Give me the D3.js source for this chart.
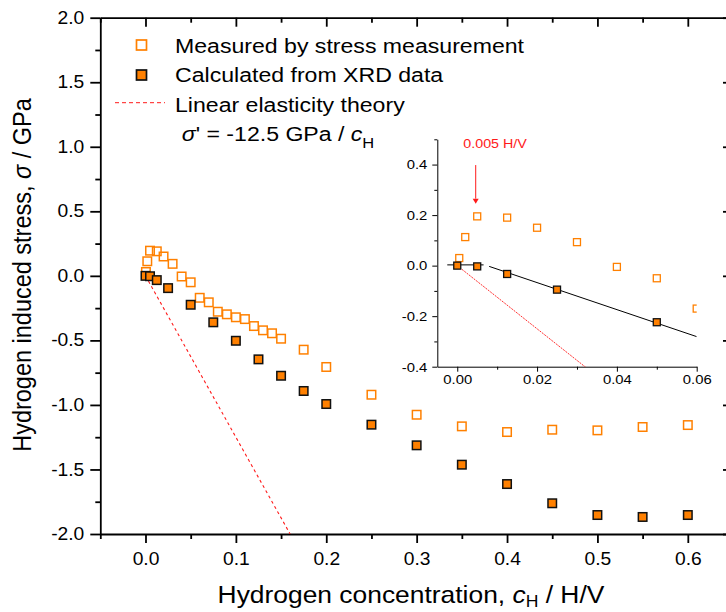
<!DOCTYPE html>
<html><head><meta charset="utf-8">
<script src="https://cdn.jsdelivr.net/npm/d3@7"></script>
<style>
html,body{margin:0;padding:0;background:#fff}
svg{display:block}
text{font-family:"Liberation Sans",Arial,Helvetica,sans-serif;fill:#000}
</style></head><body>
<svg id="chart" width="726" height="612"></svg>
<script>
// Hydrogen concentration (H/V) and induced stress (GPa)
const measuredC = [0.0005, 0.002, 0.005, 0.0125, 0.02, 0.03, 0.04, 0.05, 0.06, 0.07, 0.08, 0.09, 0.10, 0.11, 0.12, 0.13, 0.14, 0.15, 0.175, 0.20, 0.25, 0.30, 0.35, 0.40, 0.45, 0.50, 0.55, 0.60];
const measuredS = [0.03, 0.113, 0.195, 0.19, 0.15, 0.093, -0.005, -0.05, -0.17, -0.205, -0.278, -0.298, -0.321, -0.335, -0.389, -0.422, -0.445, -0.487, -0.572, -0.706, -0.921, -1.076, -1.166, -1.21, -1.192, -1.197, -1.171, -1.156];
const calcC = [0, 0.005, 0.0125, 0.025, 0.05, 0.075, 0.10, 0.125, 0.15, 0.175, 0.20, 0.25, 0.30, 0.35, 0.40, 0.45, 0.50, 0.55, 0.60];
const calcS = [0, -0.003, -0.033, -0.095, -0.224, -0.36, -0.503, -0.647, -0.774, -0.892, -0.993, -1.153, -1.313, -1.463, -1.613, -1.762, -1.853, -1.868, -1.853];
// linear elasticity theory: sigma' = -12.5 GPa * c_H
const elasticSlope = -12.5;
// fitted lines through the XRD data at low concentration
const fitFlat = [[-0.0025, 0.003], [0.0066, 0.003]];
const fitSlope = [[0.008, -0.003], [0.06, -0.281]];
// tick values
const xMajor = [0, 0.1, 0.2, 0.3, 0.4, 0.5, 0.6];
const xMinor = [-0.05, 0.05, 0.15, 0.25, 0.35, 0.45, 0.55, 0.65];
const yMajor = [-2, -1.5, -1, -0.5, 0, 0.5, 1, 1.5, 2];
const yMinor = [-1.75, -1.25, -0.75, -0.25, 0.25, 0.75, 1.25, 1.75];
const insetXMajor = [0, 0.02, 0.04, 0.06];
const insetXMinor = [0.01, 0.03, 0.05];
const insetYMajor = [-0.4, -0.2, 0, 0.2, 0.4];
const insetYMinor = [-0.3, -0.1, 0.1, 0.3, 0.5];
const legendLabels = ["Measured by stress measurement", "Calculated from XRD data", "Linear elasticity theory"];
const annotation = "0.005 H/V";

const ORANGE = "#FF8000", RED = "#FF1A1A";
const SX = 1.1; // horizontal glyph stretch
const fmt1 = d => d.toFixed(1);
const fmt2 = d => d.toFixed(2);

const svg = d3.select("#chart");

function stretch(sel) {
  sel.each(function () {
    const t = d3.select(this);
    const x0 = +t.attr("x") || 0;
    t.attr("transform", `translate(${x0 * (1 - SX)},0) scale(${SX},1)`);
  });
}

// ---------- main plot ----------
const x = d3.scaleLinear().domain([-0.05, 0.65]).range([100.3, 733]);
const y = d3.scaleLinear().domain([-2, 2]).range([534, 17.7]);

const defs = svg.append("defs");
defs.append("clipPath").attr("id", "mainClip").append("rect")
  .attr("x", x(-0.05)).attr("y", y(2)).attr("width", x(0.65) - x(-0.05)).attr("height", y(-2) - y(2));

function styleAxis(g, w) {
  g.select(".domain").attr("stroke", "#000").attr("stroke-width", w);
  g.selectAll(".tick line").attr("stroke", "#000").attr("stroke-width", w);
}

// bottom
const gb = svg.append("g").attr("transform", `translate(0,${y(-2)})`)
  .call(d3.axisBottom(x).tickValues(xMajor).tickFormat(fmt1).tickSizeInner(9).tickSizeOuter(0).tickPadding(10));
gb.selectAll("text").style("font-size", "17.5px").attr("fill", "#000");
stretch(gb.selectAll("text"));
styleAxis(gb, 1.8);
const gbm = svg.append("g").attr("transform", `translate(0,${y(-2)})`)
  .call(d3.axisBottom(x).tickValues(xMinor).tickFormat("").tickSizeInner(5).tickSizeOuter(0));
gbm.select(".domain").remove(); styleAxis(gbm, 1.8);

// top
const gt = svg.append("g").attr("transform", `translate(0,${y(2)})`)
  .call(d3.axisTop(x).tickValues(xMajor).tickFormat("").tickSizeInner(-9).tickSizeOuter(0));
styleAxis(gt, 1.8);
const gtm = svg.append("g").attr("transform", `translate(0,${y(2)})`)
  .call(d3.axisTop(x).tickValues(xMinor).tickFormat("").tickSizeInner(-5).tickSizeOuter(0));
gtm.select(".domain").remove(); styleAxis(gtm, 1.8);

// left
const gl = svg.append("g").attr("transform", `translate(${x(-0.05)},0)`)
  .call(d3.axisLeft(y).tickValues(yMajor).tickFormat(fmt1).tickSizeInner(10).tickSizeOuter(0).tickPadding(6));
gl.selectAll("text").style("font-size", "17.5px").attr("fill", "#000");
stretch(gl.selectAll("text"));
styleAxis(gl, 1.8);
const glm = svg.append("g").attr("transform", `translate(${x(-0.05)},0)`)
  .call(d3.axisLeft(y).tickValues(yMinor).tickFormat("").tickSizeInner(5).tickSizeOuter(0));
glm.select(".domain").remove(); styleAxis(glm, 1.8);

// right
const gr = svg.append("g").attr("transform", `translate(${x(0.65)},0)`)
  .call(d3.axisRight(y).tickValues(yMajor).tickFormat("").tickSizeInner(-10).tickSizeOuter(0));
styleAxis(gr, 1.8);
const grm = svg.append("g").attr("transform", `translate(${x(0.65)},0)`)
  .call(d3.axisRight(y).tickValues(yMinor).tickFormat("").tickSizeInner(-5).tickSizeOuter(0));
grm.select(".domain").remove(); styleAxis(grm, 1.8);

// axis titles
const xt = svg.append("text").attr("x", 411).attr("y", 603).attr("text-anchor", "middle").style("font-size", "24px");
xt.append("tspan").text("Hydrogen concentration, ");
xt.append("tspan").style("font-style", "italic").text("c");
xt.append("tspan").attr("dy", 4).style("font-size", "16px").text("H");
xt.append("tspan").attr("dy", -4).text(" / H/V");
stretch(xt);

const yt = svg.append("text").attr("transform", `translate(31,275) scale(${SX},1) rotate(-90)`)
  .attr("text-anchor", "middle").style("font-size", "23.5px");
yt.append("tspan").text("Hydrogen induced stress, ");
yt.append("tspan").style("font-style", "italic").text("σ");
yt.append("tspan").text(" / GPa");

// data marks
const main = svg.append("g").attr("clip-path", "url(#mainClip)");
const elastic = [[0, 0], [-2 / elasticSlope, -2]];
main.append("line")
  .attr("x1", x(elastic[0][0])).attr("y1", y(elastic[0][1]))
  .attr("x2", x(elastic[1][0])).attr("y2", y(elastic[1][1]))
  .attr("stroke", RED).attr("stroke-width", 1.1).attr("stroke-dasharray", "3,3");

const mSize = 8.5;
main.selectAll("rect.meas").data(measuredC.map((c, i) => [c, measuredS[i]])).enter()
  .append("rect").attr("class", "meas")
  .attr("x", d => x(d[0]) - mSize / 2).attr("y", d => y(d[1]) - mSize / 2)
  .attr("width", mSize).attr("height", mSize)
  .attr("fill", "none").attr("stroke", ORANGE).attr("stroke-width", 1.5);
main.selectAll("rect.calc").data(calcC.map((c, i) => [c, calcS[i]])).enter()
  .append("rect").attr("class", "calc")
  .attr("x", d => x(d[0]) - mSize / 2).attr("y", d => y(d[1]) - mSize / 2)
  .attr("width", mSize).attr("height", mSize)
  .attr("fill", ORANGE).attr("stroke", "#111").attr("stroke-width", 1.5);

// legend
const lg = svg.append("g");
lg.append("rect").attr("x", 136.5).attr("y", 40).attr("width", 10).attr("height", 10)
  .attr("fill", "none").attr("stroke", ORANGE).attr("stroke-width", 1.7);
lg.append("rect").attr("x", 136.5).attr("y", 70).attr("width", 10).attr("height", 10)
  .attr("fill", ORANGE).attr("stroke", "#111").attr("stroke-width", 1.7);
lg.append("line").attr("x1", 115).attr("x2", 165).attr("y1", 102.7).attr("y2", 102.7)
  .attr("stroke", RED).attr("stroke-width", 1).attr("stroke-dasharray", "4,3");
const lbY = [53.3, 82.3, 111.7];
legendLabels.forEach((t, i) => {
  const tx = lg.append("text").attr("x", 175).attr("y", lbY[i]).style("font-size", "21px").text(t);
  stretch(tx);
});
const eq = lg.append("text").attr("x", 181.7).attr("y", 140.7).style("font-size", "21px");
eq.append("tspan").style("font-style", "italic").text("σ");
eq.append("tspan").text("' = " + elasticSlope.toFixed(1) + " GPa / ");
eq.append("tspan").style("font-style", "italic").text("c");
eq.append("tspan").attr("dy", 7).style("font-size", "15px").text("H");
stretch(eq);

// ---------- inset ----------
const xi = d3.scaleLinear().domain([-0.005, 0.06]).range([437.3, 696.7]);
const yi = d3.scaleLinear().domain([-0.4, 0.5]).range([366.7, 139.3]);
defs.append("clipPath").attr("id", "insetClip").append("rect")
  .attr("x", xi(-0.005)).attr("y", yi(0.5)).attr("width", xi(0.06) - xi(-0.005)).attr("height", yi(-0.4) - yi(0.5));

const ib = svg.append("g").attr("transform", `translate(0,${yi(-0.4)})`)
  .call(d3.axisBottom(xi).tickValues(insetXMajor).tickFormat(fmt2).tickSizeInner(5).tickSizeOuter(0).tickPadding(3));
ib.selectAll("text").style("font-size", "13.5px").attr("fill", "#000");
stretch(ib.selectAll("text"));
styleAxis(ib, 1);
const ibm = svg.append("g").attr("transform", `translate(0,${yi(-0.4)})`)
  .call(d3.axisBottom(xi).tickValues(insetXMinor).tickFormat("").tickSizeInner(3).tickSizeOuter(0));
ibm.select(".domain").remove(); styleAxis(ibm, 1);

const il = svg.append("g").attr("transform", `translate(${xi(-0.005)},0)`)
  .call(d3.axisLeft(yi).tickValues(insetYMajor).tickFormat(fmt1).tickSizeInner(5).tickSizeOuter(0).tickPadding(5));
il.selectAll("text").style("font-size", "13.5px").attr("fill", "#000");
stretch(il.selectAll("text"));
styleAxis(il, 1);
const ilm = svg.append("g").attr("transform", `translate(${xi(-0.005)},0)`)
  .call(d3.axisLeft(yi).tickValues(insetYMinor).tickFormat("").tickSizeInner(3).tickSizeOuter(0));
ilm.select(".domain").remove(); styleAxis(ilm, 1);

const ins = svg.append("g").attr("clip-path", "url(#insetClip)");
ins.append("line")
  .attr("x1", xi(elastic[0][0])).attr("y1", yi(elastic[0][1]))
  .attr("x2", xi(elastic[1][0])).attr("y2", yi(elastic[1][1]))
  .attr("stroke", RED).attr("stroke-width", 0.9).attr("stroke-dasharray", "2,1");
[fitFlat, fitSlope].forEach(seg => {
  ins.append("line")
    .attr("x1", xi(seg[0][0])).attr("y1", yi(seg[0][1]))
    .attr("x2", xi(seg[1][0])).attr("y2", yi(seg[1][1]))
    .attr("stroke", "#000").attr("stroke-width", 1);
});
const iSize = 7;
ins.selectAll("rect.meas").data(measuredC.map((c, i) => [c, measuredS[i]]).filter(d => d[0] <= 0.065)).enter()
  .append("rect").attr("class", "meas")
  .attr("x", d => xi(d[0]) - iSize / 2).attr("y", d => yi(d[1]) - iSize / 2)
  .attr("width", iSize).attr("height", iSize)
  .attr("fill", "none").attr("stroke", ORANGE).attr("stroke-width", 1.3);
ins.selectAll("rect.calc").data(calcC.map((c, i) => [c, calcS[i]]).filter(d => d[0] <= 0.065)).enter()
  .append("rect").attr("class", "calc")
  .attr("x", d => xi(d[0]) - iSize / 2).attr("y", d => yi(d[1]) - iSize / 2)
  .attr("width", iSize).attr("height", iSize)
  .attr("fill", ORANGE).attr("stroke", "#111").attr("stroke-width", 1.3);

// annotation arrow at 0.005 H/V
const arrowC = 0.005;
svg.append("line").attr("x1", xi(arrowC) - 1.5).attr("x2", xi(arrowC) - 1.5)
  .attr("y1", yi(0.398)).attr("y2", yi(0.265))
  .attr("stroke", RED).attr("stroke-width", 1);
svg.append("path")
  .attr("d", `M${xi(arrowC) - 4.5},${yi(0.265)} L${xi(arrowC) + 1.5},${yi(0.265)} L${xi(arrowC) - 1.5},${yi(0.245)} Z`)
  .attr("fill", RED);
const at = svg.append("text").attr("x", 463.3).attr("y", 148.3).style("font-size", "13px")
  .style("fill", RED).text(annotation);
stretch(at);
</script>
</body></html>
